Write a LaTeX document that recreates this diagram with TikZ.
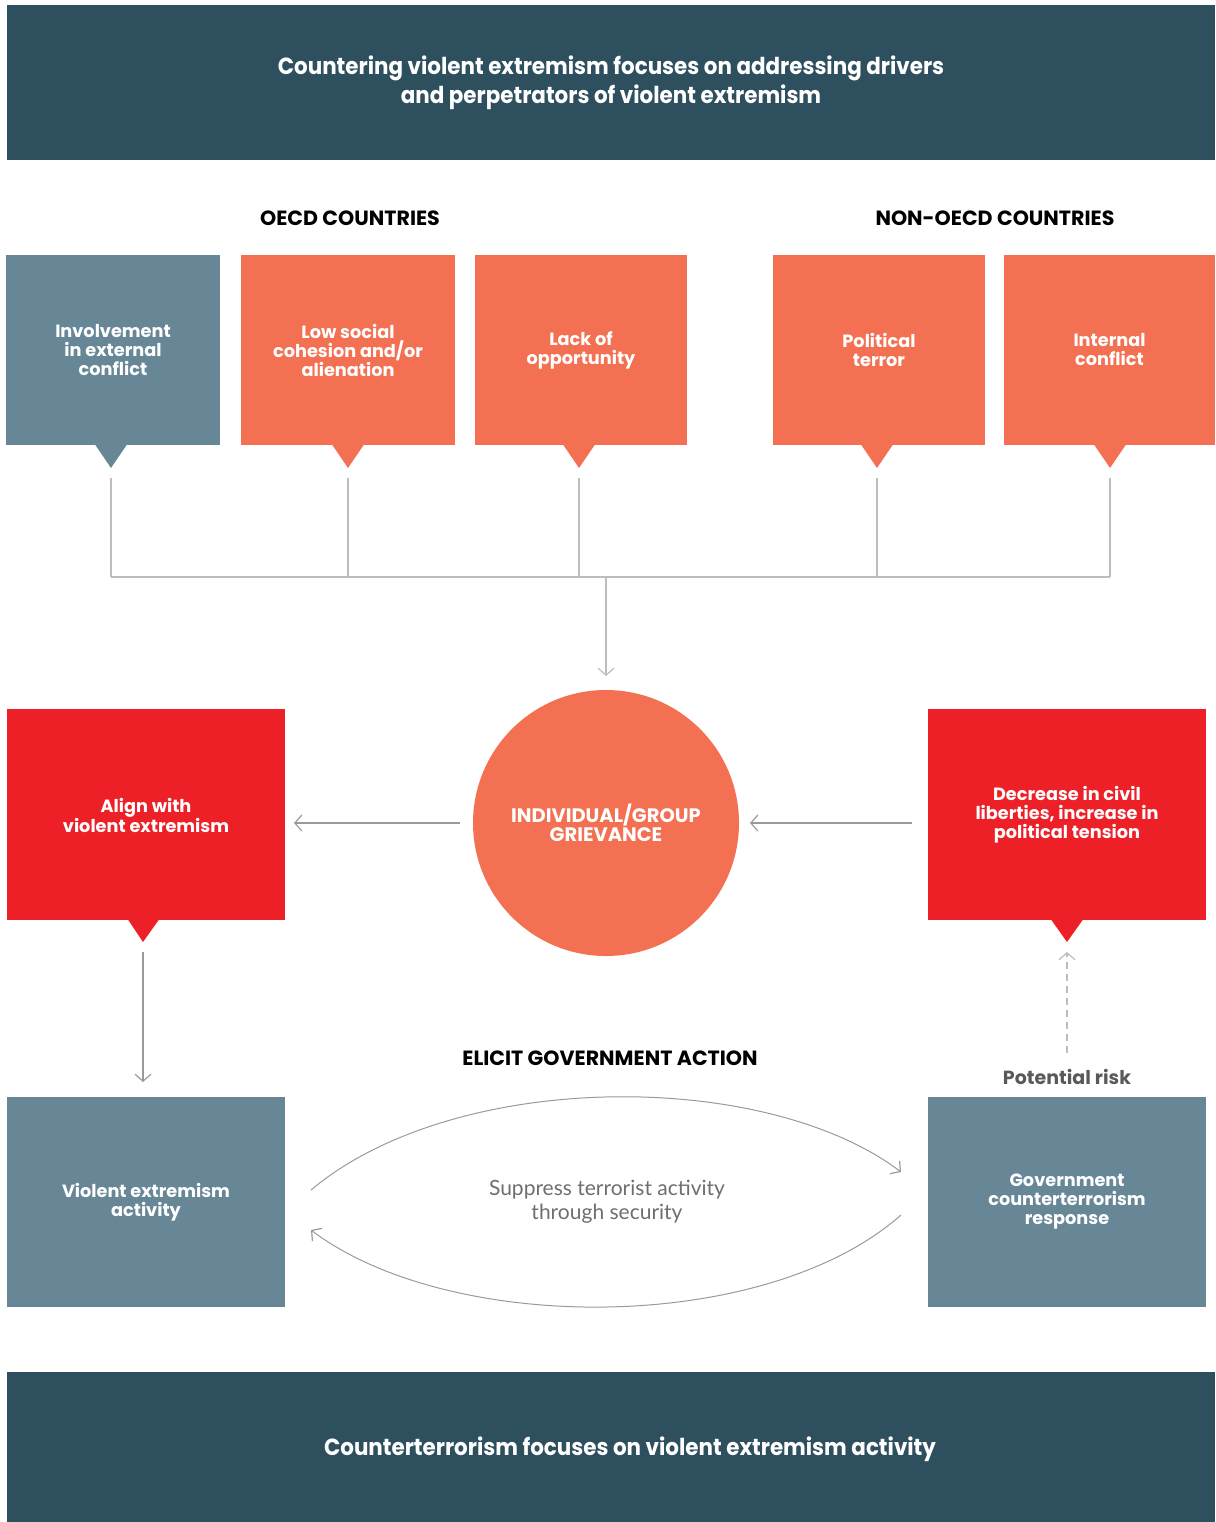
\documentclass[tikz,border=0pt]{standalone}
\usepackage{fontspec}
\setmainfont{Poppins}
\newfontfamily\condfont[FakeStretch=0.92]{Poppins}
\newfontfamily\lightfont{Lato}
\usetikzlibrary{arrows.meta}
\definecolor{darkteal}{HTML}{2E4F5E}
\definecolor{slate}{HTML}{678797}
\definecolor{coral}{HTML}{F37152}
\definecolor{redbox}{HTML}{ED1F27}
\definecolor{linegray}{HTML}{BDBDBD}
\definecolor{arrowgray}{HTML}{9A9A9A}
\definecolor{textgray}{HTML}{58595B}
\definecolor{softgray}{HTML}{6D6E71}
\tikzset{
  bannertext/.style={text=white, align=center, inner sep=0,
    font=\condfont\bfseries\fontsize{23.3}{29}\selectfont},
  banner/.style={fill=darkteal, minimum width=1208, bannertext},
  topbox/.style={minimum width=#1, minimum height=190, inner sep=0, align=center, text=white,
    font=\bfseries\fontsize{17.7}{19}\selectfont},
  midbox/.style={minimum width=278, minimum height=211, inner sep=0, align=center, text=white,
    font=\bfseries\fontsize{17.7}{19}\selectfont},
  heading/.style={font=\bfseries\fontsize{20.6}{22}\selectfont, text=black},
  conn/.style={draw=linegray, line width=1.2},
  arr/.style={draw=arrowgray, line width=1.2, -{Straight Barb[length=7,width=16,line width=1.2]}},
}
\begin{document}
\begin{tikzpicture}[x=1pt,y=-1pt]
\useasboundingbox (0,0) rectangle (1215,1522);
% banners
\node[banner, minimum height=155] (top) at (611,82.5) {Countering violent extremism focuses on addressing drivers\\and perpetrators of violent extremism};
\node[banner, minimum height=150] (bottom) at (611,1447) {};
\node[bannertext] (bottomtext) at (630,1449) {Counterterrorism focuses on violent extremism activity};
% headings
\node[heading] (oecd) at (350,218) {OECD COUNTRIES};
\node[heading] (nonoecd) at (995,218) {NON-OECD COUNTRIES};
% top boxes
\node[topbox=214, fill=slate] (b1) at (113,350) {Involvement\\in external\\conflict};
\node[topbox=214, fill=coral] (b2) at (348,350) {Low social\\cohesion and/or\\alienation};
\node[topbox=212, fill=coral] (b3) at (581,350) {Lack of\\opportunity};
\node[topbox=212, fill=coral] (b4) at (879,350) {Political\\terror};
\node[topbox=211, fill=coral] (b5) at (1109.5,350) {Internal\\conflict};
\fill[slate] (95,444.5) -- (127,444.5) -- (111,468) -- cycle;
\fill[coral] (332,444.5) -- (364,444.5) -- (348,468) -- cycle;
\fill[coral] (563,444.5) -- (595,444.5) -- (579,468) -- cycle;
\fill[coral] (861,444.5) -- (893,444.5) -- (877,468) -- cycle;
\fill[coral] (1094,444.5) -- (1126,444.5) -- (1110,468) -- cycle;
% connectors
\coordinate (j1) at (111,577);
\coordinate (j2) at (348,577);
\coordinate (j3) at (579,577);
\coordinate (j4) at (877,577);
\coordinate (j5) at (1110,577);
\coordinate (jm) at (606,577);
\draw[conn] (111,478) -- (j1);
\draw[conn] (348,478) -- (j2);
\draw[conn] (579,478) -- (j3);
\draw[conn] (877,478) -- (j4);
\draw[conn] (1110,478) -- (j5);
\draw[conn] (j1) -- (j5);
% circle
\node[circle, fill=coral, minimum size=266, inner sep=0, align=center, text=white,
  font=\bfseries\fontsize{19.5}{18.5}\selectfont] (grv) at (606,823) {INDIVIDUAL/GROUP\\GRIEVANCE};
\coordinate (grvIn) at (606,676);
\draw[arr, draw=linegray] (jm) -- (grvIn);
% middle boxes
\node[midbox, fill=redbox] (align) at (146,814.5) {\\[-2pt]Align with\\violent extremism};
\node[midbox, fill=redbox] (civil) at (1067,814.5) {Decrease in civil\\liberties, increase in\\political tension};
\fill[redbox] (128,919.5) -- (159,919.5) -- (143,942) -- cycle;
\fill[redbox] (1051,919.5) -- (1083,919.5) -- (1067,942) -- cycle;
\coordinate (grvW) at (460,823);
\coordinate (alignE) at (294,823);
\coordinate (civilW) at (912,823);
\coordinate (grvE) at (750,823);
\draw[arr] (grvW) -- (alignE);
\draw[arr] (civilW) -- (grvE);
% bottom boxes
\node[midbox, fill=slate, minimum height=210] (vea) at (146,1202) {Violent extremism\\activity};
\node[midbox, fill=slate, minimum height=210] (gov) at (1067,1202) {Government\\counterterrorism\\response};
\coordinate (alignTip) at (143,952);
\coordinate (veaTop) at (143,1082);
\draw[arr] (alignTip) -- (veaTop);
\node[font=\bfseries\fontsize{19}{22}\selectfont, text=textgray] (risk) at (1067,1077) {Potential risk};
\coordinate (civilTip) at (1067,952);
\coordinate (riskTop) at (1067,1053);
\draw[arr, draw=linegray, dash pattern=on 7 off 5] (riskTop) -- (civilTip);
\node[heading] (elicit) at (610,1058) {ELICIT GOVERNMENT ACTION};
\node[align=center, text=softgray, font=\lightfont\fontsize{21}{24}\selectfont] (supp) at (607,1202) {Suppress terrorist activity\\through security};
% arcs
\coordinate (u1) at (311,1190);
\coordinate (u2) at (901,1172);
\coordinate (l1) at (901,1215);
\coordinate (l2) at (311,1230);
\draw[arr, line width=1] (u1) .. controls (455,1069) and (765,1069) .. (u2);
\draw[arr, line width=1] (l1) .. controls (765,1335) and (450,1335) .. (l2);
\end{tikzpicture}
\end{document}
